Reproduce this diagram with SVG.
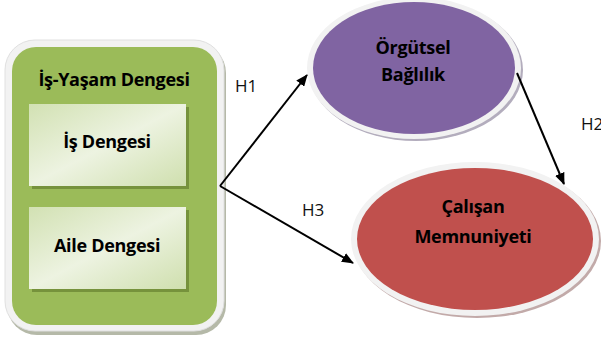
<svg xmlns="http://www.w3.org/2000/svg" width="601" height="340" viewBox="0 0 601 340">
<style>
.lbl{font-family:"Open Sans","Liberation Sans",sans-serif;font-weight:bold;font-size:18px;fill:#000;text-anchor:middle;letter-spacing:-0.3px}
.h{font-family:"Open Sans","Liberation Sans",sans-serif;font-size:17px;fill:#111}
.con{stroke:#000;stroke-width:2;fill:none;marker-end:url(#ah)}
</style>
<defs>
<marker id="ah" viewBox="0 0 12 10" refX="11" refY="5" markerWidth="12" markerHeight="10" markerUnits="userSpaceOnUse" orient="auto">
<path d="M0,0 L12,5 L0,10 Z" fill="#000"/>
</marker>
<linearGradient id="gb" x1="0" y1="0" x2="1" y2="1">
<stop offset="0" stop-color="#d2e1b3"/>
<stop offset="0.5" stop-color="#edf3e1"/>
<stop offset="1" stop-color="#cfdfae"/>
</linearGradient>
</defs>
<rect width="601" height="340" fill="#fff"/>
<g id="is-yasam">
<rect x="7" y="43" width="219" height="292" rx="30" fill="#b5b9a8"/>
<rect x="5" y="40" width="219" height="291" rx="30" fill="#f2f2f2" stroke="#e0e0e0"/>
<rect x="12" y="47" width="205" height="278" rx="24" fill="#9bbb59"/>
<text class="lbl" x="114" y="86">İş-Yaşam Dengesi</text>
</g>
<g id="is-dengesi">
<rect x="32" y="107" width="157" height="82" fill="#76923c"/>
<rect x="29" y="104" width="157" height="82" fill="url(#gb)"/>
<text class="lbl" x="107" y="148">İş Dengesi</text>
</g>
<g id="aile-dengesi">
<rect x="32" y="210" width="157" height="82" fill="#76923c"/>
<rect x="29" y="207" width="157" height="82" fill="url(#gb)"/>
<text class="lbl" x="107" y="252">Aile Dengesi</text>
</g>
<g id="orgutsel">
<ellipse cx="416" cy="70" rx="107" ry="71" fill="#b3adbd"/>
<ellipse cx="414" cy="68" rx="107" ry="71" fill="#f2f2f2"/>
<ellipse cx="414" cy="68" rx="101" ry="66" fill="#8064a2"/>
<text class="lbl" x="413" y="54">Örgütsel</text>
<text class="lbl" x="413" y="81">Bağlılık</text>
</g>
<g id="calisan">
<ellipse cx="477" cy="241" rx="124" ry="77" fill="#c2aaa9"/>
<ellipse cx="475" cy="239" rx="124" ry="77" fill="#f2f2f2"/>
<ellipse cx="475" cy="239" rx="118" ry="71" fill="#c0504d"/>
<text class="lbl" x="473" y="213">Çalışan</text>
<text class="lbl" x="473" y="243">Memnuniyeti</text>
</g>
<g id="connectors">
<line class="con" x1="220" y1="186" x2="307" y2="75"/>
<line class="con" x1="220" y1="186" x2="353" y2="263"/>
<line class="con" x1="517" y1="73" x2="564" y2="184"/>
<text class="h" x="235" y="92">H1</text>
<text class="h" x="302" y="216">H3</text>
<text class="h" x="581" y="130">H2</text>
</g>
</svg>
